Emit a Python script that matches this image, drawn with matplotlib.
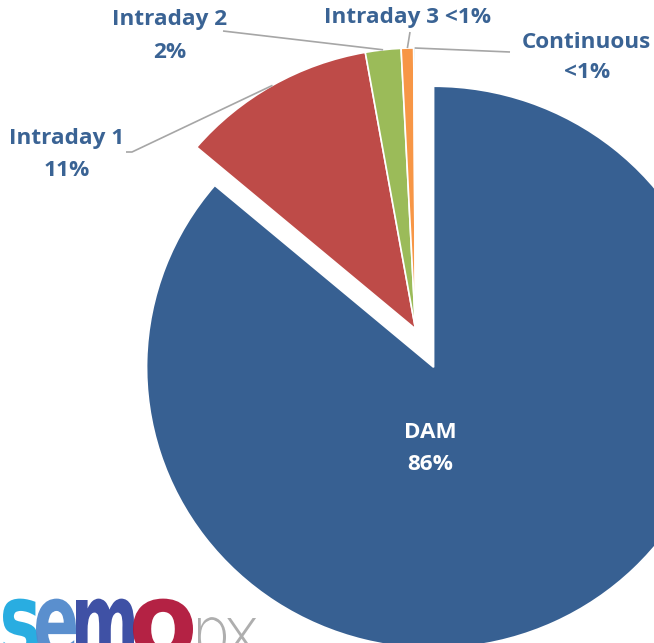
import matplotlib
matplotlib.use("Agg")
import matplotlib.pyplot as plt
import numpy as np
from matplotlib.textpath import TextPath
from matplotlib.patches import PathPatch
from matplotlib.font_manager import FontProperties
from matplotlib.transforms import Affine2D

# data
labels = ["DAM", "Intraday 1", "Intraday 2", "Intraday 3", "Continuous"]
shares = [86.2, 11.0, 2.0, 0.7, 0.1]
pct_text = ["86%", "11%", "2%", "<1%", "<1%"]
colors = ["#376092", "#BE4B48", "#9BBB59", "#F79646", "#4BACC6"]
explode = [0.15, 0, 0, 0, 0]

W, H = 654, 643
RX, RY = 287, 281       # pie radius in pixels (source image is a bit stretched sideways)
CX, CY = 415.5, 329     # pie centre, pixels from top-left

px = lambda x, y: ((x - CX) / RX, (CY - y) / RY)

fig = plt.figure(figsize=(W / 100, H / 100), dpi=100)
ax = fig.add_axes([0, 0, 1, 1])
wedges, _ = ax.pie(shares, colors=colors, startangle=90, counterclock=False,
                   explode=explode, radius=1,
                   wedgeprops=dict(edgecolor="white", linewidth=1.2))
x0, y0 = px(0, H)
x1, y1 = px(W, 0)
ax.set_xlim(x0, x1)
ax.set_ylim(y0, y1)
ax.set_aspect("auto")
ax.axis("off")

txt_color = "#3A6394"
font = dict(family=["Open Sans", "DejaVu Sans"], weight="bold", size=16.2)

# label text lines (centre, pixels) and where the leader leaves the label
label_lines = {
    "Intraday 1": [("Intraday 1", 67, 139), ("11%", 67, 171)],
    "Intraday 2": [("Intraday 2", 170, 20), ("2%", 170, 52)],
    "Intraday 3": [("Intraday 3 <1%", 408, 18)],
    "Continuous": [("Continuous", 586, 42), ("<1%", 587, 73)],
}
leader_from = {
    "Intraday 1": [(126, 152), (132, 152)],
    "Intraday 2": [(223, 31)],
    "Intraday 3": [(410, 32)],
    "Continuous": [(510, 52)],
}

for w, name in zip(wedges, labels):
    if name == "DAM":
        continue
    for s, tx, ty in label_lines[name]:
        ax.text(*px(tx, ty), s, color=txt_color, ha="center", va="center", **font)
    # leader line ends on the middle of the slice's arc
    mid = np.deg2rad((w.theta1 + w.theta2) / 2)
    end = (w.center[0] + w.r * np.cos(mid), w.center[1] + w.r * np.sin(mid))
    pts = [px(*p) for p in leader_from[name]] + [end]
    ax.plot([p[0] for p in pts], [p[1] for p in pts], color="#A6A6A6", lw=1.2,
            solid_capstyle="butt")

ax.text(*px(430, 433), labels[0], color="white", ha="center", va="center", **font)
ax.text(*px(430, 465), pct_text[0], color="white", ha="center", va="center", **font)

# semopx logo, bottom left, cut by the edge
lax = fig.add_axes([0, 0, 1, 1])
lax.set_xlim(0, W)
lax.set_ylim(0, H)
lax.axis("off")

def logo_letter(ch, left, right, top, base, color, fp):
    path = TextPath((0, 0), ch, size=100, prop=fp)
    ref = TextPath((0, 0), "x", size=100, prop=fp).get_extents()
    bb = path.get_extents()
    sx = (right - left) / bb.width
    sy = (base - top) / ref.height
    tr = Affine2D().translate(-bb.x0, 0).scale(sx, sy).translate(left, H - base)
    lax.add_patch(PathPatch(tr.transform_path(path), facecolor=color, lw=0, alpha=0.95))

heavy = FontProperties(family="DejaVu Sans", weight="bold")
light = FontProperties(family="DejaVu Sans", weight="light")
for ch, l, r, c in [("s", 3, 38, "#1DA9E0"), ("e", 36, 76, "#5189CC"),
                    ("m", 76, 134, "#3447A0"), ("o", 133, 193, "#B0163A")]:
    logo_letter(ch, l, r, 600, 658, c, heavy)
for ch, l, r in [("p", 198, 226), ("x", 226, 257)]:
    logo_letter(ch, l, r, 618, 656, "#AAAAAA", light)

fig.savefig("out.png", dpi=100, facecolor="white")
